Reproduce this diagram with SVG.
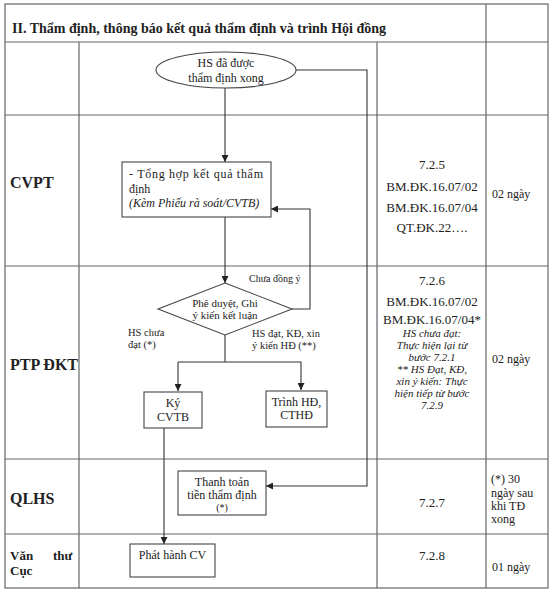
<svg xmlns="http://www.w3.org/2000/svg" width="554" height="595" viewBox="0 0 554 595" font-family="'Liberation Serif', 'Times New Roman', serif">
<defs>
<marker id="ah" viewBox="0 0 10 10" refX="10" refY="5" markerWidth="7" markerHeight="7" markerUnits="userSpaceOnUse" orient="auto">
<path d="M0,0 L10,5 L0,10 z" fill="#222"/>
</marker>
<style>
.grid{stroke:#666;stroke-width:1.2;fill:none}
.box{fill:#fff;stroke:#444;stroke-width:1.1}
.ln{stroke:#333;stroke-width:1.1;fill:none}
text{fill:#222}
.t{font-size:12px}
.s{font-size:10.5px}
.c{font-size:13px}
.ci{font-size:11px;font-style:italic}
.lab{font-size:16px;font-weight:bold}
.lab2{font-size:13px;font-weight:bold}
.i{font-style:italic}
</style>
</defs>
<rect width="554" height="595" fill="#fff"/>
<g id="table">
<rect class="grid" x="5" y="4" width="543" height="584"/>
<line class="grid" x1="5" y1="42" x2="548" y2="42"/>
<line class="grid" x1="5" y1="115" x2="548" y2="115"/>
<line class="grid" x1="5" y1="266" x2="548" y2="266"/>
<line class="grid" x1="5" y1="459" x2="548" y2="459"/>
<line class="grid" x1="5" y1="534" x2="548" y2="534"/>
<line class="grid" x1="486" y1="4" x2="486" y2="588"/>
<line class="grid" x1="79" y1="42" x2="79" y2="588"/>
<line class="grid" x1="377" y1="42" x2="377" y2="588"/>
<text x="12" y="33" font-size="14.5" font-weight="bold" textLength="374" lengthAdjust="spacingAndGlyphs">II. Thẩm định, thông báo kết quả thẩm định và trình Hội đồng</text>
<text class="lab" x="10" y="188">CVPT</text>
<text class="lab" x="10" y="370">PTP ĐKT</text>
<text class="lab" x="10" y="504">QLHS</text>
<text class="lab2" x="10" y="560">Văn</text>
<text class="lab2" x="53" y="560">thư</text>
<text class="lab2" x="10" y="575">Cục</text>
<g text-anchor="middle">
<text class="c" x="432" y="169">7.2.5</text>
<text class="c" x="432" y="191">BM.ĐK.16.07/02</text>
<text class="c" x="432" y="212">BM.ĐK.16.07/04</text>
<text class="c" x="432" y="232">QT.ĐK.22….</text>
<text class="c" x="432" y="285">7.2.6</text>
<text class="c" x="432" y="306">BM.ĐK.16.07/02</text>
<text class="c" x="432" y="324">BM.ĐK.16.07/04*</text>
<text class="ci" x="432" y="337">HS chưa đạt:</text>
<text class="ci" x="432" y="349">Thực hiện lại từ</text>
<text class="ci" x="432" y="361">bước 7.2.1</text>
<text class="ci" x="432" y="373">** HS Đạt, KĐ,</text>
<text class="ci" x="432" y="385">xin ý kiến: Thực</text>
<text class="ci" x="432" y="397">hiện tiếp từ bước</text>
<text class="ci" x="432" y="409">7.2.9</text>
<text class="c" x="432" y="507">7.2.7</text>
<text class="c" x="432" y="560">7.2.8</text>
</g>
<g class="t">
<text x="492" y="198">02 ngày</text>
<text x="492" y="363">02 ngày</text>
<text x="491" y="483">(*) 30</text>
<text x="491" y="497">ngày sau</text>
<text x="491" y="510">khi TĐ</text>
<text x="491" y="523">xong</text>
<text x="492" y="571">01 ngày</text>
</g>
</g>
<g id="connectors">
<line class="ln" x1="225" y1="88" x2="225" y2="162" marker-end="url(#ah)"/>
<polyline class="ln" points="296,70 367,70 367,486 266,486" marker-end="url(#ah)"/>
<line class="ln" x1="225" y1="217" x2="225" y2="283" marker-end="url(#ah)"/>
<polyline class="ln" points="292,309 310,309 310,209 271,209" marker-end="url(#ah)"/>
<polyline class="ln" points="225,335 225,362"/>
<polyline class="ln" points="178,362 301,362 301,390" marker-end="url(#ah)"/>
<line class="ln" x1="178" y1="362" x2="178" y2="391" marker-end="url(#ah)"/>
<line class="ln" x1="164" y1="428" x2="164" y2="544" marker-end="url(#ah)"/>
<text x="249" y="282" font-size="10">Chưa đồng ý</text>
<text class="s" x="128" y="336">HS chưa</text>
<text class="s" x="128" y="348">đạt (*)</text>
<text class="s" x="252" y="337">HS đạt, KĐ, xin</text>
<text class="s" x="252" y="349">ý kiến HĐ (**)</text>
</g>
<g id="start">
<ellipse class="box" cx="226" cy="70" rx="70" ry="18"/>
<text class="t" x="226" y="67" text-anchor="middle">HS đã được</text>
<text class="t" x="226" y="82" text-anchor="middle">thẩm định xong</text>
</g>
<g id="tonghop">
<rect class="box" x="122" y="162" width="149" height="55"/>
<text class="t" x="129" y="178" textLength="134" lengthAdjust="spacing">- Tổng hợp kết quả thẩm</text>
<text class="t" x="129" y="193">định</text>
<text class="t i" x="129" y="207">(Kèm Phiếu rà soát/CVTB)</text>
</g>
<g id="pheduyet">
<polygon class="box" points="225,283 292,309 225,335 158,309"/>
<text x="225" y="307" font-size="11" text-anchor="middle">Phê duyệt, Ghi</text>
<text x="225" y="319" font-size="11" text-anchor="middle">ý kiến kết luận</text>
</g>
<g id="ky">
<rect class="box" x="144" y="392" width="58" height="36"/>
<text class="t" x="173" y="407" text-anchor="middle">Ký</text>
<text class="t" x="173" y="421" text-anchor="middle">CVTB</text>
</g>
<g id="trinh">
<rect class="box" x="266" y="391" width="61" height="36"/>
<text class="t" x="296.5" y="406" text-anchor="middle">Trình HĐ,</text>
<text class="t" x="296.5" y="419" text-anchor="middle">CTHĐ</text>
</g>
<g id="thanhtoan">
<rect class="box" x="178" y="471" width="88" height="44"/>
<text class="t" x="222" y="486" text-anchor="middle">Thanh toán</text>
<text class="t" x="222" y="499" text-anchor="middle">tiền thẩm định</text>
<text x="222" y="511" font-size="10" text-anchor="middle">(*)</text>
</g>
<g id="phathanh">
<rect class="box" x="130" y="544" width="85" height="33"/>
<text class="t" x="172.5" y="559" text-anchor="middle">Phát hành CV</text>
</g>
</svg>
